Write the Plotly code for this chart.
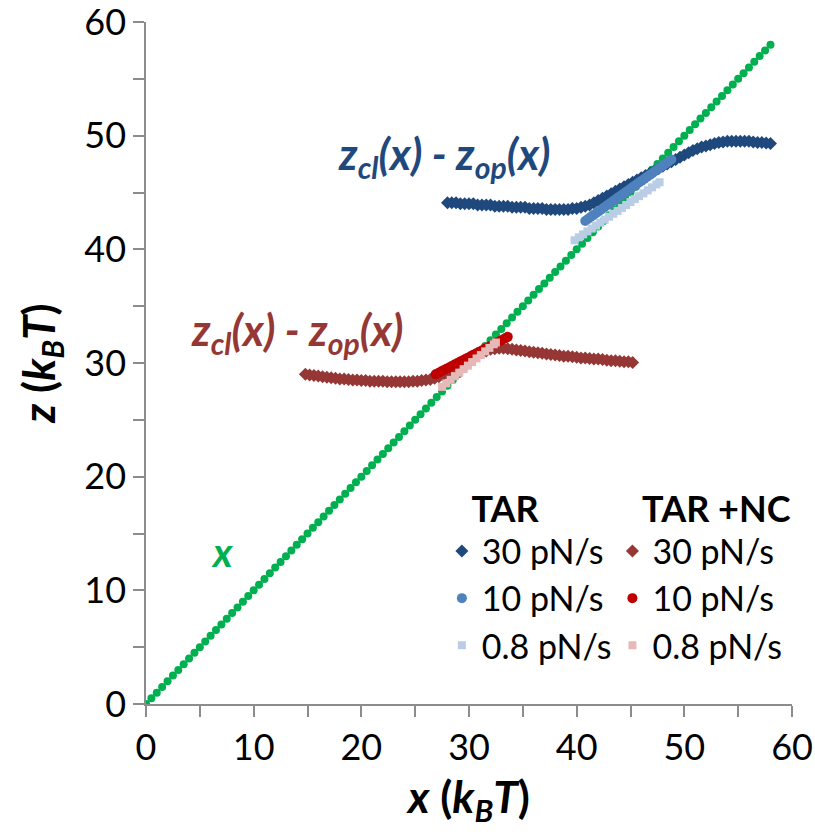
import plotly.graph_objects as go

# ---------------- data ----------------
diag_x = [0, 0.5, 1, 1.5, 2, 2.5, 3, 3.5, 4, 4.5, 5, 5.5, 6, 6.5, 7, 7.5, 8, 8.5, 9, 9.5,
          10, 10.5, 11, 11.5, 12, 12.5, 13, 13.5, 14, 14.5, 15, 15.5, 16, 16.5, 17, 17.5,
          18, 18.5, 19, 19.5, 20, 20.5, 21, 21.5, 22, 22.5, 23, 23.5, 24, 24.5, 25, 25.5,
          26, 26.5, 27, 27.5, 28, 28.5, 29, 29.5, 30, 30.5, 31, 31.5, 32, 32.5, 33, 33.5,
          34, 34.5, 35, 35.5, 36, 36.5, 37, 37.5, 38, 38.5, 39, 39.5, 40, 40.5, 41, 41.5,
          42, 42.5, 43, 43.5, 44, 44.5, 45, 45.5, 46, 46.5, 47, 47.5, 48, 48.5, 49, 49.5,
          50, 50.5, 51, 51.5, 52, 52.5, 53, 53.5, 54, 54.5, 55, 55.5, 56, 56.5, 57, 57.5, 58]
diag_z = list(diag_x)  # the line z = x

tar30_x = [28.0, 28.4, 28.8, 29.2, 29.6, 30.0, 30.4, 30.8, 31.2, 31.6, 32.0, 32.4, 32.8, 33.2,
           33.6, 34.0, 34.4, 34.8, 35.2, 35.6, 36.0, 36.4, 36.8, 37.2, 37.6, 38.0, 38.4, 38.8,
           39.2, 39.6, 40.0, 40.4, 40.8, 41.2, 41.6, 42.0, 42.4, 42.8, 43.2, 43.6, 44.0, 44.4,
           44.8, 45.2, 45.6, 46.0, 46.4, 46.8, 47.2, 47.6, 48.0, 48.4, 48.8, 49.2, 49.6, 50.0,
           50.4, 50.8, 51.2, 51.6, 52.0, 52.4, 52.8, 53.2, 53.6, 54.0, 54.4, 54.8, 55.2, 55.6,
           56.0, 56.4, 56.8, 57.2, 57.6, 58.0]
tar30_z = [44.1, 44.1, 44.1, 44.0, 44.0, 44.0, 44.0, 43.9, 43.9, 43.9, 43.9, 43.8, 43.8, 43.8,
           43.8, 43.7, 43.7, 43.7, 43.7, 43.6, 43.6, 43.6, 43.6, 43.5, 43.5, 43.5, 43.5, 43.5,
           43.5, 43.6, 43.6, 43.7, 43.8, 43.9, 44.1, 44.3, 44.5, 44.7, 44.9, 45.1, 45.3, 45.5,
           45.7, 45.9, 46.1, 46.3, 46.5, 46.7, 46.9, 47.1, 47.3, 47.5, 47.7, 47.9, 48.1, 48.3,
           48.5, 48.7, 48.85, 49.0, 49.1, 49.2, 49.3, 49.4, 49.45, 49.5, 49.5, 49.5, 49.5, 49.5,
           49.5, 49.45, 49.4, 49.4, 49.35, 49.3]

tar10_x = [40.8, 41.05, 41.3, 41.55, 41.8, 42.05, 42.3, 42.55, 42.8, 43.05, 43.3, 43.55, 43.8,
           44.05, 44.3, 44.55, 44.8, 45.05, 45.3, 45.55, 45.8, 46.05, 46.3, 46.55, 46.8, 47.05,
           47.3, 47.55, 47.8, 48.05, 48.3, 48.55, 48.8]
tar10_z = [42.5, 42.67, 42.84, 43.01, 43.18, 43.34, 43.51, 43.68, 43.85, 44.02, 44.19, 44.36,
           44.53, 44.69, 44.86, 45.03, 45.2, 45.37, 45.54, 45.71, 45.88, 46.04, 46.21, 46.38,
           46.55, 46.72, 46.89, 47.06, 47.23, 47.39, 47.56, 47.73, 47.9]

tar08_x = [39.8, 40.2, 40.6, 41.0, 41.4, 41.8, 42.2, 42.6, 43.0, 43.4, 43.8, 44.2, 44.6, 45.0,
           45.4, 45.8, 46.2, 46.6, 47.0, 47.4, 47.7]
tar08_z = [40.8, 41.06, 41.32, 41.58, 41.83, 42.09, 42.35, 42.61, 42.87, 43.13, 43.38, 43.64,
           43.9, 44.16, 44.42, 44.68, 44.93, 45.19, 45.45, 45.71, 45.9]

nc30_x = [14.8, 15.2, 15.6, 16.0, 16.4, 16.8, 17.2, 17.6, 18.0, 18.4, 18.8, 19.2, 19.6, 20.0,
          20.4, 20.8, 21.2, 21.6, 22.0, 22.4, 22.8, 23.2, 23.6, 24.0, 24.4, 24.8, 25.2, 25.6,
          26.0, 26.4, 26.8, 27.2, 27.6, 28.0, 28.4, 28.8, 29.2, 29.6, 30.0, 30.4, 30.8, 31.2,
          31.6, 32.0, 32.4, 32.8, 33.2, 33.6, 34.0, 34.4, 34.8, 35.2, 35.6, 36.0, 36.4, 36.8,
          37.2, 37.6, 38.0, 38.4, 38.8, 39.2, 39.6, 40.0, 40.4, 40.8, 41.2, 41.6, 42.0, 42.4,
          42.8, 43.2, 43.6, 44.0, 44.4, 44.8, 45.2]
nc30_z = [29.0, 28.95, 28.9, 28.85, 28.8, 28.75, 28.7, 28.65, 28.6, 28.6, 28.55, 28.5, 28.5,
          28.45, 28.45, 28.4, 28.4, 28.4, 28.4, 28.35, 28.35, 28.35, 28.35, 28.35, 28.35, 28.4,
          28.4, 28.45, 28.5, 28.55, 28.65, 28.8, 28.95, 29.1, 29.3, 29.5, 29.7, 29.95, 30.2,
          30.45, 30.7, 30.9, 31.05, 31.2, 31.25, 31.3, 31.3, 31.25, 31.2, 31.15, 31.1, 31.05,
          31.0, 30.95, 30.9, 30.85, 30.8, 30.75, 30.7, 30.65, 30.6, 30.6, 30.55, 30.5, 30.45,
          30.45, 30.4, 30.35, 30.35, 30.3, 30.25, 30.2, 30.2, 30.15, 30.1, 30.1, 30.05]

nc10_x = [26.9, 27.15, 27.4, 27.65, 27.9, 28.15, 28.4, 28.65, 28.9, 29.15, 29.4, 29.65, 29.9,
          30.15, 30.4, 30.65, 30.9, 31.15, 31.4, 31.65, 31.9, 32.15, 32.4, 32.65, 32.9, 33.15,
          33.4, 33.6]
nc10_z = [29.0, 29.12, 29.25, 29.37, 29.49, 29.61, 29.74, 29.86, 29.98, 30.1, 30.23, 30.35,
          30.47, 30.59, 30.72, 30.84, 30.96, 31.08, 31.21, 31.33, 31.45, 31.57, 31.7, 31.82,
          31.94, 32.06, 32.19, 32.3]

nc08_x = [27.5, 27.9, 28.3, 28.7, 29.1, 29.5, 29.9, 30.3, 30.7, 31.1, 31.5, 31.9, 32.3, 32.5]
nc08_z = [27.9, 28.21, 28.52, 28.84, 29.15, 29.46, 29.77, 30.08, 30.4, 30.71, 31.02, 31.33,
          31.64, 31.8]

rate_labels = ["30 pN/s", "10 pN/s", "0.8 pN/s"]
tick_vals = [0, 10, 20, 30, 40, 50, 60]

# ---------------- styles ----------------
FONT = "Lato"
GREEN = "#00B050"
DKBLUE = "#1F497D"
MDBLUE = "#4F81BD"
LTBLUE = "#B9CDE5"
BROWN = "#953735"
RED = "#C00000"
PINK = "#E6B9B8"
NB = "\u00a0"

fig = go.Figure()

fig.add_trace(go.Scatter(x=diag_x, y=diag_z, mode="markers", showlegend=False,
                         marker=dict(symbol="circle", size=8, color=GREEN)))

fig.add_trace(go.Scatter(x=nc30_x, y=nc30_z, mode="markers", name=rate_labels[0],
                         legend="legend2",
                         marker=dict(symbol="diamond", size=10, color=BROWN)))
fig.add_trace(go.Scatter(x=tar30_x, y=tar30_z, mode="markers", name=rate_labels[0],
                         legend="legend",
                         marker=dict(symbol="diamond", size=10, color=DKBLUE)))
fig.add_trace(go.Scatter(x=tar10_x, y=tar10_z, mode="markers", name=rate_labels[1],
                         legend="legend",
                         marker=dict(symbol="circle", size=10, color=MDBLUE)))
fig.add_trace(go.Scatter(x=tar08_x, y=tar08_z, mode="markers", name=rate_labels[2],
                         legend="legend",
                         marker=dict(symbol="square", size=8, color=LTBLUE)))
fig.add_trace(go.Scatter(x=nc10_x, y=nc10_z, mode="markers", name=rate_labels[1],
                         legend="legend2",
                         marker=dict(symbol="circle", size=10, color=RED)))
fig.add_trace(go.Scatter(x=nc08_x, y=nc08_z, mode="markers", name=rate_labels[2],
                         legend="legend2",
                         marker=dict(symbol="square", size=8, color=PINK)))

axis_common = dict(range=[0, 60], tickvals=tick_vals, showgrid=False, zeroline=False,
                   ticklabeloverflow="allow", automargin=False,
                   showline=True, linecolor="#8C8C8C", linewidth=1.5,
                   ticks="outside", ticklen=11, tickcolor="#8C8C8C", tickwidth=1.5,
                   minor=dict(ticks="outside", ticklen=11, tickcolor="#8C8C8C",
                              tickwidth=1.5, dtick=5, tick0=0),
                   tickfont=dict(family=FONT, size=36, color="black"))

fig.update_xaxes(**axis_common, ticklabelstandoff=0,
                 title=dict(text="<b><i>x</i> (<i>k</i><sub><i>B</i></sub><i>T</i>)</b>",
                            font=dict(family=FONT, size=44, color="black")))
fig.update_yaxes(**axis_common, ticksuffix="\u2009",
                 title=dict(text="<b><i>z</i> (<i>k</i><sub><i>B</i></sub><i>T</i>)</b>",
                            font=dict(family=FONT, size=44, color="black")))

legend_common = dict(font=dict(family=FONT, size=34, color="black"),
                     bgcolor="rgba(0,0,0,0)", borderwidth=0, yanchor="top",
                     tracegroupgap=0)
fig.update_layout(
    width=815, height=839,
    margin=dict(l=146, r=23, t=22, b=135),
    paper_bgcolor="white", plot_bgcolor="white",
    legend=dict(**legend_common, x=0.458, y=0.335,
                title=dict(text=NB * 3 + "<b>TAR</b>",
                           font=dict(family=FONT, size=36, color="black"))),
    legend2=dict(**legend_common, x=0.722, y=0.335,
                 title=dict(text=NB * 3 + "<b>TAR +NC</b>",
                            font=dict(family=FONT, size=36, color="black"))),
)

label_text = "<b><i>z<sub>cl</sub>(x) - z<sub>op</sub>(x)</i></b>"
fig.add_annotation(x=27.7, y=48.2, text=label_text, showarrow=False,
                   font=dict(family=FONT, size=43, color=DKBLUE))
fig.add_annotation(x=14.1, y=32.7, text=label_text, showarrow=False,
                   font=dict(family=FONT, size=43, color=BROWN))
fig.add_annotation(x=7.05, y=13.4, text="<b><i>x</i></b>", showarrow=False,
                   font=dict(family=FONT, size=40, color=GREEN))

fig.write_html("out.html", config={"displayModeBar": False},
               post_script="document.body.style.margin='0';")
